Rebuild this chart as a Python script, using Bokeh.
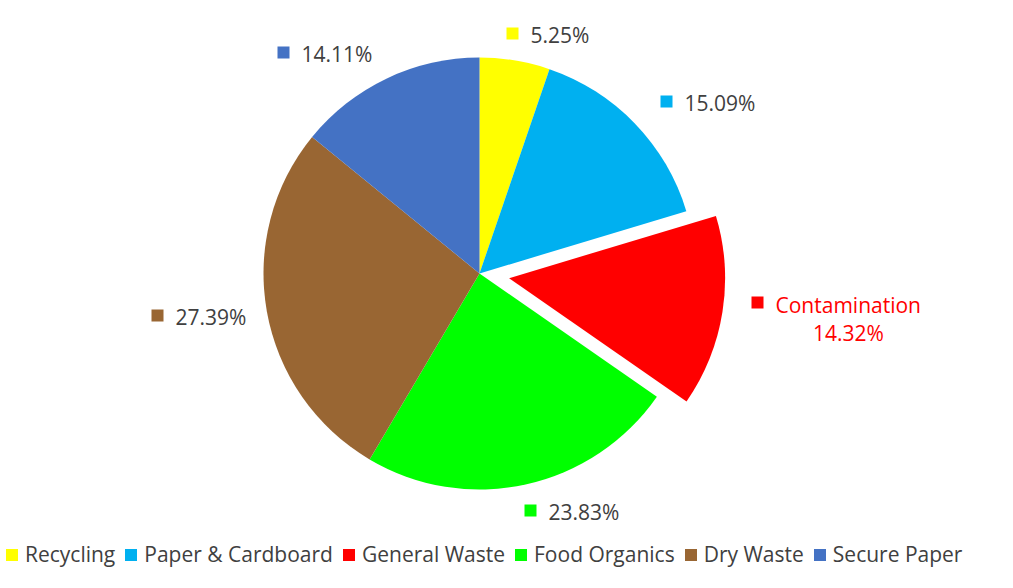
import math
from bokeh.plotting import figure
from bokeh.models import Range1d, Legend, LegendItem, ColumnDataSource
from bokeh.core.properties import value
from bokeh.embed import file_html
from bokeh.resources import INLINE

# ---- data ----
categories = ["Recycling", "Paper & Cardboard", "General Waste", "Food Organics", "Dry Waste", "Secure Paper"]
shares = [5.25, 15.09, 14.32, 23.83, 27.39, 14.11]
colors = ["#FFFF00", "#00B0F0", "#FF0000", "#00FF00", "#996633", "#4472C4"]
label_names = ["", "", "Contamination", "", "", ""]
exploded = [0, 0, 1, 0, 0, 0]

# ---- layout ----
FONT = "Open Sans"
FS = "21px"
TEXT_COLOR = "#404040"
W, H = 997, 572


def sy(y):
    return 588 - y


cx, cy, R, EXPLODE = 479, sy(273), 216, 30
# label anchor (marker centre) positions, screen px
lab_x = [512, 666, 757, 530, 157, 283]
lab_y = [33, 101, 302, 510, 315, 52]

p = figure(width=W, height=H, output_backend="svg", toolbar_location=None,
           x_range=Range1d(0, W), y_range=Range1d(16, 16 + H),
           x_axis_location=None, y_axis_location=None, min_border=0)
p.grid.visible = False
p.outline_line_color = None
p.background_fill_color = "white"
p.border_fill_color = "white"

total = sum(shares)
xs, ys, starts, ends = [], [], [], []
cum = 0.0
for v, e in zip(shares, exploded):
    f0 = cum / total
    cum += v
    f1 = cum / total
    mid = math.pi / 2 - 2 * math.pi * (f0 + f1) / 2
    xs.append(cx + e * EXPLODE * math.cos(mid))
    ys.append(cy + e * EXPLODE * math.sin(mid))
    starts.append(math.pi / 2 - 2 * math.pi * f1)
    ends.append(math.pi / 2 - 2 * math.pi * f0)

src = ColumnDataSource(dict(x=xs, y=ys, start=starts, end=ends, color=colors, cat=categories))
r = p.wedge(x="x", y="y", radius=R, start_angle="start", end_angle="end",
            fill_color="color", line_color=None, source=src)

# ---- data labels ----
p.scatter(x=lab_x, y=[sy(v) for v in lab_y], marker="square", size=12,
          fill_color=colors, line_color=None)
for i, v in enumerate(shares):
    pct = f"{v:.2f}%"
    if label_names[i]:
        p.text(x=[lab_x[i] + 18], y=[sy(lab_y[i] + 2)], text=[label_names[i]],
               text_font=value(FONT), text_font_size=FS, text_color=colors[i],
               text_align="left", text_baseline="middle")
        p.text(x=[lab_x[i] + 91], y=[sy(lab_y[i] + 30)], text=[pct],
               text_font=value(FONT), text_font_size=FS, text_color=colors[i],
               text_align="center", text_baseline="middle")
    else:
        p.text(x=[lab_x[i] + 18], y=[sy(lab_y[i] + 1)], text=[pct],
               text_font=value(FONT), text_font_size=FS, text_color=TEXT_COLOR,
               text_align="left", text_baseline="middle")

# ---- legend ----
items = [LegendItem(label=c, renderers=[r], index=i) for i, c in enumerate(categories)]
legend = Legend(items=items, orientation="horizontal", location=(4, 4),
                glyph_width=15, glyph_height=15, label_standoff=6, spacing=8,
                padding=0, margin=0, border_line_color=None, background_fill_alpha=0,
                label_text_font=FONT, label_text_font_size=FS,
                label_text_color=TEXT_COLOR)
p.add_layout(legend, "center")

open("out.html", "w").write(file_html(p, INLINE))
